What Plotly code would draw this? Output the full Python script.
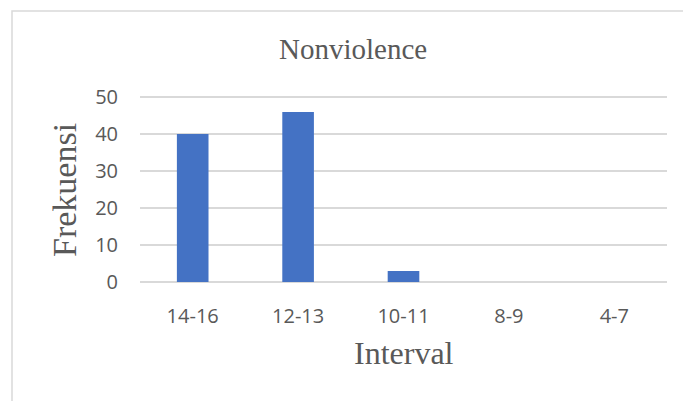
import plotly.graph_objects as go

# Frequency of scores per interval
categories = ["14-16", "12-13", "10-11", "8-9", "4-7"]
frequencies = [40, 46, 3, 0, 0]
y_ticks = [0, 10, 20, 30, 40, 50]

W, H = 683, 401
L, R, T, B = 140, 16, 96, 119
pw, ph = W - L - R, H - T - B


def px_x(x):
    return (x - L) / pw


def px_y(y):
    return (H - B - y) / ph


grey = "#595959"
serif = "Liberation Serif, Times New Roman, serif"

fig = go.Figure(
    go.Bar(
        x=categories,
        y=frequencies,
        marker=dict(color="#4472C4", line=dict(width=0)),
    )
)

fig.update_layout(
    width=W,
    height=H,
    margin=dict(l=L, r=R, t=T, b=B),
    paper_bgcolor="white",
    plot_bgcolor="white",
    bargap=0.70,
    showlegend=False,
    font=dict(family="Open Sans, sans-serif", size=20, color=grey),
    xaxis=dict(
        type="category",
        automargin=False,
        showgrid=False,
        showline=False,
        zeroline=False,
        ticks="",
        tickangle=0,
        ticklabelstandoff=20,
        tickfont=dict(size=20, color=grey),
    ),
    yaxis=dict(
        automargin=False,
        # small headroom so the top gridline at 50 is still drawn
        range=[0, 50.3],
        tickvals=y_ticks,
        showgrid=True,
        gridcolor="#D9D9D9",
        gridwidth=1.5,
        zeroline=True,
        zerolinecolor="#D9D9D9",
        zerolinewidth=1.5,
        showline=False,
        ticks="",
        ticklabelstandoff=21,
        tickfont=dict(size=20, color=grey),
    ),
    shapes=[
        dict(
            type="rect",
            xref="paper",
            yref="paper",
            x0=px_x(12),
            x1=px_x(W + 20),
            y0=px_y(H + 20),
            y1=px_y(11),
            line=dict(color="#D9D9D9", width=1.5),
            fillcolor="rgba(0,0,0,0)",
            layer="below",
        )
    ],
    annotations=[
        dict(
            text="Nonviolence",
            xref="paper",
            yref="paper",
            x=px_x(353),
            y=px_y(49),
            xanchor="center",
            yanchor="middle",
            showarrow=False,
            font=dict(family=serif, size=29, color=grey),
        ),
        dict(
            text="Frekuensi",
            xref="paper",
            yref="paper",
            x=px_x(64),
            y=px_y(190),
            xanchor="center",
            yanchor="middle",
            textangle=-90,
            showarrow=False,
            font=dict(family=serif, size=34, color=grey),
        ),
        dict(
            text="Interval",
            xref="paper",
            yref="paper",
            x=px_x(403.5),
            y=px_y(353),
            xanchor="center",
            yanchor="middle",
            showarrow=False,
            font=dict(family=serif, size=32, color=grey),
        ),
    ],
)

fig.write_html("out.html")
